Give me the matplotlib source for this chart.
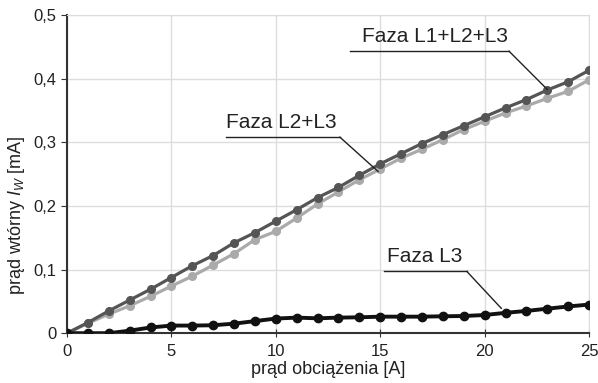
import numpy as np
import matplotlib
matplotlib.use("Agg")
import matplotlib.pyplot as plt
from matplotlib.ticker import FuncFormatter

plt.rcParams['font.family'] = ['Liberation Sans', 'DejaVu Sans']
plt.rcParams['mathtext.fontset'] = 'custom'
plt.rcParams['mathtext.it'] = 'Liberation Sans:italic'
plt.rcParams['mathtext.rm'] = 'Liberation Sans'

# dane
prad = list(range(26))
faza_l123 = [0, 0.0167, 0.035, 0.052, 0.069, 0.0875, 0.106, 0.122, 0.142, 0.158, 0.176,
             0.194, 0.213, 0.229, 0.248, 0.266, 0.282, 0.298, 0.312, 0.326, 0.340,
             0.354, 0.367, 0.382, 0.395, 0.413]
faza_l23 = [0, 0.0156, 0.030, 0.043, 0.058, 0.074, 0.0896, 0.107, 0.125, 0.147, 0.160,
            0.181, 0.203, 0.222, 0.241, 0.258, 0.275, 0.289, 0.304, 0.320, 0.333,
            0.346, 0.357, 0.369, 0.380, 0.398]
faza_l3 = [0, 0, 0, 0.004, 0.009, 0.012, 0.012, 0.0125, 0.015, 0.019, 0.023,
           0.0245, 0.0234, 0.0245, 0.025, 0.026, 0.026, 0.026, 0.0266, 0.027, 0.0286,
           0.032, 0.035, 0.0385, 0.042, 0.045]

fig = plt.figure(figsize=(5.98, 3.83), dpi=100)
ax = fig.add_axes([0.112, 0.13, 0.873, 0.831])

ax.plot(prad, faza_l23, color='#aaaaaa', lw=2.3, marker='o', ms=5.5, zorder=3)
ax.plot(prad, faza_l123, color='#555555', lw=2.3, marker='o', ms=5.5, zorder=4)
ax.plot(prad, faza_l3, color='#111111', lw=2.8, marker='o', ms=6, zorder=5)

ax.set_xlim(0, 25)
ax.set_ylim(0, 0.5)
ax.set_xticks([0, 5, 10, 15, 20, 25])
ax.set_yticks([0, 0.1, 0.2, 0.3, 0.4, 0.5])
ax.yaxis.set_major_formatter(FuncFormatter(lambda v, p: '0' if v == 0 else f'{v:.1f}'.replace('.', ',')))
ax.grid(True, color='#dddddd', lw=1)
ax.set_axisbelow(True)
for s in ['top', 'right']:
    ax.spines[s].set_color('#dddddd')
for s in ['left', 'bottom']:
    ax.spines[s].set_color('#333333')
    ax.spines[s].set_linewidth(1.5)
ax.tick_params(labelsize=12, length=4, color='#333333', colors='#222222')
ax.tick_params(axis='x', direction='inout', length=6, pad=5)

ax.set_xlabel('prąd obciążenia [A]', fontsize=13, color='#222222', labelpad=1)
ax.set_ylabel(r'prąd wtórny $I_W$ [mA]', fontsize=13, color='#222222')
ax.yaxis.set_label_coords(-0.077, 0.37)

# opisy
opisy = [
    ('Faza L1+L2+L3', 17.6, 0.443, 13.55, 21.17, (23, 0.383)),
    ('Faza L2+L3', 10.25, 0.308, 7.6, 13.07, (14.9, 0.254)),
    ('Faza L3', 17.15, 0.097, 15.2, 19.15, (20.8, 0.039)),
]
for txt, xt, yl, x0, x1, cel in opisy:
    ax.text(xt, yl + 0.008, txt, fontsize=15, ha='center', va='bottom', color='#222222', zorder=6)
    ax.plot([x0, x1], [yl, yl], color='#222222', lw=1, zorder=6)
    ax.plot([x1, cel[0]], [yl, cel[1]], color='#222222', lw=1, zorder=6)

fig.savefig('out.png', dpi=100)
